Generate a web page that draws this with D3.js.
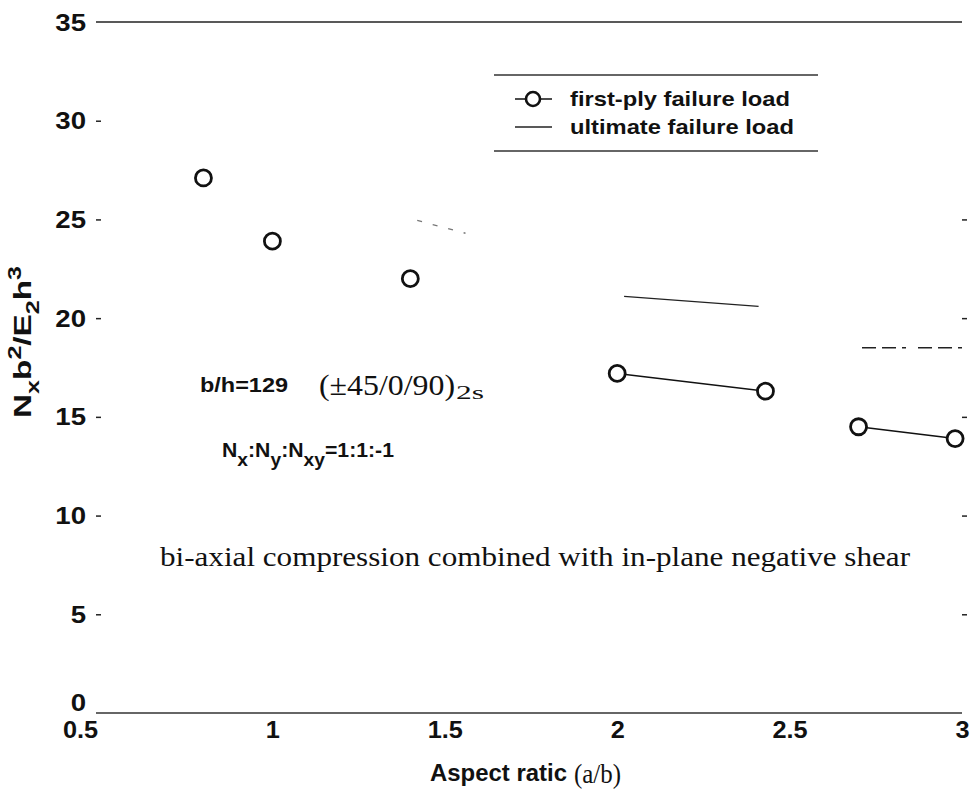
<!DOCTYPE html>
<html>
<head>
<meta charset="utf-8">
<script src="https://cdn.jsdelivr.net/npm/d3@7"></script>
<style>
  html, body { margin: 0; padding: 0; background: #fff; }
  svg { display: block; }
  .sans { font-family: "Liberation Sans", Arial, sans-serif; font-weight: bold; fill: #111; }
  .serif { font-family: "Liberation Serif", "Times New Roman", serif; fill: #111; }
</style>
</head>
<body>
<svg id="chart" width="979" height="789"></svg>
<script>
// Aspect ratio (a/b) and first-ply failure load N_x b^2 / (E_2 h^3)
const aspectRatio = [0.8, 1.0, 1.4, 2.0, 2.43, 2.7, 2.98];
const firstPlyLoad = [27.1, 23.9, 22.0, 17.2, 16.3, 14.5, 13.9];
// which points are joined by a first-ply line
const firstPlyGroup = ["", "", "", "b", "b", "c", "c"];

// Ultimate failure load segments
const ultimateX = [[1.42, 1.56], [2.02, 2.41], [2.71, 3.0]];
const ultimateY = [[24.95, 24.3], [21.1, 20.6], [18.5, 18.5]];
const ultimateDash = ["5,11", null, "14,6,14,6,4,12"];
const ultimateTone = ["#777", "#222", "#222"];

const xTicks = [0.5, 1, 1.5, 2, 2.5, 3];
const xTickLabels = ["0.5", "1", "1.5", "2", "2.5", "3"];
const yTicks = [0, 5, 10, 15, 20, 25, 30, 35];
const yRightTicks = [5, 10, 15, 20, 25];

const svg = d3.select("#chart");
const x = d3.scaleLinear().domain([0.5, 3]).range([100, 962]);
const y = d3.scaleLinear().domain([0, 35]).range([713, 22]);

// widen text horizontally by factor k
function widen(sel, k) {
  sel.each(function () {
    const len = this.getComputedTextLength();
    d3.select(this).attr("textLength", len * k).attr("lengthAdjust", "spacingAndGlyphs");
  });
}
// stretch text to a given width
function fit(sel, w) {
  sel.attr("textLength", w).attr("lengthAdjust", "spacingAndGlyphs");
}

// top and bottom frame lines
svg.append("line").attr("x1", 96).attr("x2", 962).attr("y1", y(35)).attr("y2", y(35))
  .attr("stroke", "#222").attr("stroke-width", 1.5);
svg.append("line").attr("x1", 96).attr("x2", 962).attr("y1", y(0)).attr("y2", y(0))
  .attr("stroke", "#333").attr("stroke-width", 1.5);

// left axis ticks and labels
const yAxis = d3.axisLeft(y).tickValues(yTicks).tickSize(5).tickPadding(10).tickFormat(d3.format("d"));
const gy = svg.append("g").attr("transform", "translate(101,0)").call(yAxis);
gy.select(".domain").remove();
gy.selectAll(".tick line").attr("stroke", "#222").attr("stroke-width", 1.5)
  .filter(d => d === 0 || d === 35).remove();
gy.selectAll(".tick text").attr("class", "sans").attr("font-size", 23)
  .attr("dy", d => d === 0 ? "-0.12em" : "0.35em");
widen(gy.selectAll(".tick text"), 1.2);

// right axis ticks
const gr = svg.append("g").attr("transform", "translate(962,0)")
  .call(d3.axisRight(y).tickValues(yRightTicks).tickSize(5).tickFormat(""));
gr.select(".domain").remove();
gr.selectAll(".tick line").attr("stroke", "#222").attr("stroke-width", 1.5);

// bottom axis labels
const xAxis = d3.axisBottom(x).tickValues(xTicks).tickSize(0).tickPadding(9)
  .tickFormat((d, i) => xTickLabels[i]);
const gx = svg.append("g").attr("transform", `translate(0,${y(0)})`).call(xAxis);
gx.select(".domain").remove();
gx.selectAll(".tick text").attr("class", "sans").attr("font-size", 23).attr("dy", "0.71em")
  .attr("dx", d => d === 0.5 ? -20 : 0);
widen(gx.selectAll(".tick text"), 1.1);

// axis titles
const xt = svg.append("text").attr("x", 430).attr("y", 781);
xt.append("tspan").attr("class", "sans").attr("font-size", 23).text("Aspect ratic").call(fit, 137);
xt.append("tspan").attr("class", "serif").attr("font-size", 28).attr("x", 574).attr("dy", 2).text("(a/b)").call(fit, 47);

const yt = svg.append("text").attr("class", "sans").attr("font-size", 24)
  .attr("transform", "translate(31,342) rotate(-90)").attr("text-anchor", "middle");
const yParts = [["N", 0], ["x", 1], ["b", 0], ["2", -1], ["/E", 0], ["2", 1], ["h", 0], ["3", -1]];
let prevShift = 0;
yParts.forEach(([t, s]) => {
  const ts = yt.append("tspan").text(t);
  const shift = s === 1 ? 8 : s === -1 ? -10 : 0;
  ts.attr("dy", shift - prevShift);
  if (s !== 0) ts.attr("font-size", 18);
  prevShift = shift;
});
yt.call(fit, 152);

// ultimate failure load segments
const lineGen = d3.line().x(d => x(d[0])).y(d => y(d[1]));
ultimateX.forEach((xs, i) => {
  svg.append("path")
    .attr("d", lineGen(xs.map((v, j) => [v, ultimateY[i][j]])))
    .attr("fill", "none").attr("stroke", ultimateTone[i]).attr("stroke-width", 1.3)
    .attr("stroke-dasharray", ultimateDash[i]);
});

// first-ply failure load lines and markers
const pts = aspectRatio.map((a, i) => ({ a, v: firstPlyLoad[i], g: firstPlyGroup[i] }));
d3.groups(pts.filter(p => p.g), p => p.g).forEach(([, grp]) => {
  svg.append("path").attr("d", lineGen(grp.map(p => [p.a, p.v])))
    .attr("fill", "none").attr("stroke", "#111").attr("stroke-width", 1.5);
});
svg.selectAll("circle.fp").data(pts).join("circle").attr("class", "fp")
  .attr("cx", d => x(d.a)).attr("cy", d => y(d.v)).attr("r", 8)
  .attr("fill", "#fff").attr("stroke", "#111").attr("stroke-width", 2.8);

// legend
const lg = svg.append("g");
lg.append("line").attr("x1", 494).attr("x2", 818).attr("y1", 75).attr("y2", 75).attr("stroke", "#333").attr("stroke-width", 1.3);
lg.append("line").attr("x1", 494).attr("x2", 818).attr("y1", 151).attr("y2", 151).attr("stroke", "#333").attr("stroke-width", 1.3);
lg.append("line").attr("x1", 515).attr("x2", 552).attr("y1", 99).attr("y2", 99).attr("stroke", "#111").attr("stroke-width", 1.5);
lg.append("circle").attr("cx", 533).attr("cy", 99).attr("r", 7).attr("fill", "#fff").attr("stroke", "#111").attr("stroke-width", 2.6);
lg.append("line").attr("x1", 515).attr("x2", 552).attr("y1", 127).attr("y2", 127).attr("stroke", "#222").attr("stroke-width", 1.3);
lg.append("text").attr("class", "sans").attr("font-size", 21).attr("x", 570).attr("y", 106)
  .text("first-ply failure load").call(fit, 220);
lg.append("text").attr("class", "sans").attr("font-size", 21).attr("x", 570).attr("y", 134)
  .text("ultimate failure load").call(fit, 224);

// annotations
svg.append("text").attr("class", "sans").attr("font-size", 21).attr("x", 200).attr("y", 392)
  .text("b/h=129").call(fit, 88);
const lay = svg.append("text").attr("class", "serif").attr("x", 319).attr("y", 395);
lay.append("tspan").attr("font-size", 30).text("(\u00B145/0/90)").call(fit, 136);
lay.append("tspan").attr("font-size", 19).attr("x", 456).attr("dy", 4).text("2s").call(fit, 28);

const ratio = svg.append("text").attr("class", "sans").attr("font-size", 21).attr("x", 222).attr("y", 457);
[["N", 0], ["x", 1], [":N", 0], ["y", 1], [":N", 0], ["xy", 1], ["=1:1:-1", 0]].forEach(([t, s], i, arr) => {
  const prev = i > 0 ? arr[i - 1][1] : 0;
  const ts = ratio.append("tspan").text(t).attr("dy", (s - prev) * 9);
  if (s) ts.attr("font-size", 19);
});
ratio.call(fit, 172);

svg.append("text").attr("class", "serif").attr("font-size", 28).attr("x", 160).attr("y", 566)
  .text("bi-axial compression combined with in-plane negative shear").call(fit, 750);
</script>
</body>
</html>
